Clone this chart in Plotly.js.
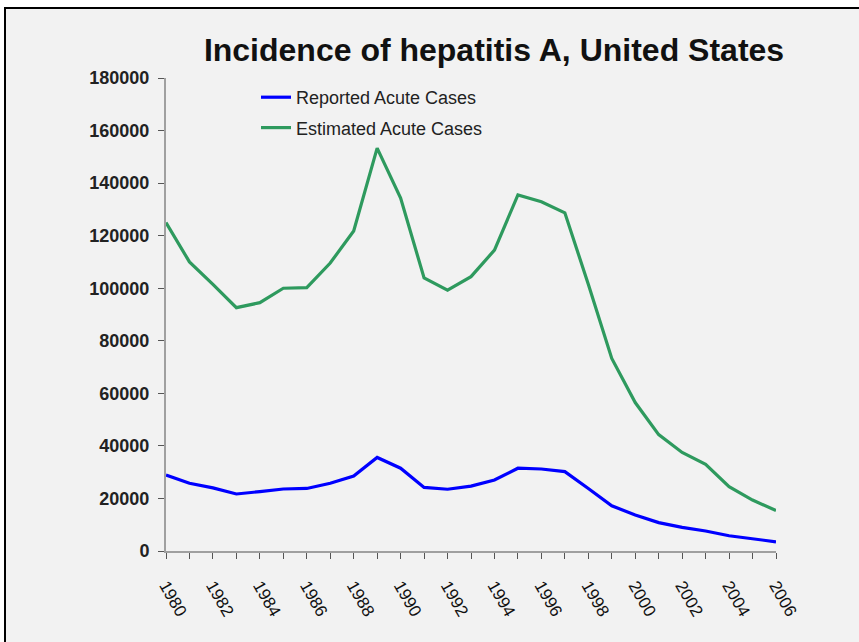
<!DOCTYPE html>
<html>
<head>
<meta charset="utf-8">
<script src="https://cdn.plot.ly/plotly-3.0.1.min.js"></script>
<style>
html,body{margin:0;padding:0;background:#ffffff;}
#chart{width:859px;height:642px;}
</style>
</head>
<body>
<div id="chart"></div>
<script>
const years = [1980,1981,1982,1983,1984,1985,1986,1987,1988,1989,1990,1991,1992,1993,1994,1995,1996,1997,1998,1999,2000,2001,2002,2003,2004,2005,2006];
const reportedCases = [28900,25800,24000,21700,22600,23600,23800,25800,28500,35600,31500,24200,23500,24700,27000,31500,31200,30200,23800,17200,13700,10800,9000,7600,5800,4800,3500];
const estimatedCases = [125000,110000,101500,92600,94500,100000,100200,109600,121800,153300,134300,103900,99300,104400,114500,135500,132900,128700,101500,73300,56500,44300,37500,33000,24500,19400,15400];
const tickLabels = ["1980","","1982","","1984","","1986","","1988","","1990","","1992","","1994","","1996","","1998","","2000","","2002","","2004","","2006"];
const yTicks = [0,20000,40000,60000,80000,100000,120000,140000,160000,180000];
const seriesNames = ["Reported Acute Cases","Estimated Acute Cases"];
const titleText = "Incidence of hepatitis A, United States";

const traces = [
  {x: years, y: reportedCases, name: seriesNames[0], type: 'scatter', mode: 'lines',
   line: {color: '#0000ff', width: 3.2}, legendgroup: 'a'},
  {x: years, y: estimatedCases, name: seriesNames[1], type: 'scatter', mode: 'lines',
   line: {color: '#2e9a5e', width: 3.2}, legendgroup: 'b'}
];

const L = 166, R = 83, T = 78, B = 91;
const pw = 859 - L - R, ph = 642 - T - B;
const px = v => (v - L) / pw;
const py = v => (642 - B - v) / ph;

const layout = {
  width: 859, height: 642,
  margin: {l: L, r: R, t: T, b: B, pad: 0},
  paper_bgcolor: '#ffffff',
  plot_bgcolor: 'rgba(0,0,0,0)',
  title: {text: '<b>' + titleText + '</b>', font: {family: 'Liberation Sans, Arial, sans-serif', size: 32, color: '#111111'},
          x: 494/859, xref: 'container', xanchor: 'center', y: 1 - 50/642, yref: 'container', yanchor: 'middle'},
  showlegend: true,
  legend: {x: px(256), y: py(79), xanchor: 'left', yanchor: 'top', bgcolor: 'rgba(0,0,0,0)',
           font: {family: 'Liberation Sans Narrow, Arial Narrow, sans-serif', size: 18, color: '#222222'},
           tracegroupgap: 4, traceorder: 'grouped'},
  xaxis: {range: [1980, 2006], tickmode: 'array', tickvals: years, ticktext: tickLabels,
          ticks: 'outside', ticklen: 6, tickwidth: 1, tickcolor: '#555555', tickangle: 60,
          showline: true, linecolor: '#a0a0a0', linewidth: 2, showgrid: false, zeroline: false,
          tickfont: {family: 'Liberation Sans, Arial, sans-serif', size: 17, color: '#111111'},
          ticklabelstandoff: 10, fixedrange: true},
  yaxis: {range: [0, 180000], tickmode: 'array', tickvals: yTicks, ticktext: yTicks.map(String),
          ticks: 'outside', ticklen: 6, tickwidth: 1, tickcolor: '#555555',
          showline: true, linecolor: '#a0a0a0', linewidth: 2, showgrid: false, zeroline: false,
          tickfont: {family: 'Liberation Sans, Arial, sans-serif', size: 18, color: '#222222', weight: 'bold'},
          ticklabelstandoff: 5, fixedrange: true},
  shapes: [
    {type: 'rect', xref: 'paper', yref: 'paper', x0: px(5), x1: px(880), y0: py(680), y1: py(8),
     fillcolor: '#f2f2f2', line: {color: '#000000', width: 2}, layer: 'below'}
  ]
};

Plotly.newPlot('chart', traces, layout, {displayModeBar: false, staticPlot: true});
</script>
</body>
</html>
